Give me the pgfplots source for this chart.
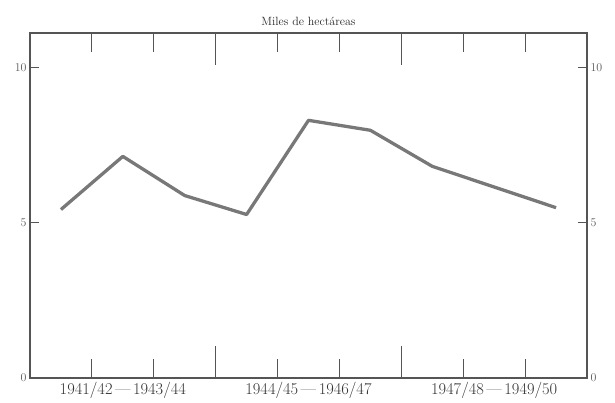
\documentclass[border=0pt]{standalone}
\usepackage{pgfplots}
\pgfplotsset{compat=1.18}

\definecolor{framegray}{RGB}{85,85,85}
\definecolor{linegray}{RGB}{120,120,120}

\begin{document}
\begin{tikzpicture}[grplab/.style={below, yshift=-1bp, font=\fontsize{16.5}{18}\selectfont, text=black!80}]
\begin{axis}[
    scale only axis,
    width=557bp, height=345bp,
    xmin=0, xmax=9,
    ymin=0, ymax=11.1,
    axis line style={framegray, line width=1.6pt},
    xtick={3,6}, xticklabels={},
    minor xtick={1,2,4,5,7,8},
    x tick style={framegray, line width=1pt, /pgfplots/major tick length=32bp, /pgfplots/minor tick length=19bp},
    ytick={0,5,10},
    ytick pos=left,
    y tick style={framegray, line width=1pt, /pgfplots/major tick length=9bp},
    yticklabel style={font=\fontsize{13}{15}\selectfont, text=black!65},
    title={Miles de hectáreas},
    title style={font=\fontsize{12}{14}\selectfont, text=black!85, yshift=-2bp},
    clip=false,
]
\addplot[linegray, line width=3.3pt, line join=round] coordinates {
    (0.5,5.42) (1.5,7.13) (2.5,5.87) (3.5,5.26)
    (4.5,8.29) (5.5,7.97) (6.5,6.81) (8.5,5.48)
};
% group labels under the axis
\node[grplab] at (axis cs:1.5,0) {1941/42\,---\,1943/44};
\node[grplab] at (axis cs:4.5,0) {1944/45\,---\,1946/47};
\node[grplab] at (axis cs:7.5,0) {1947/48\,---\,1949/50};
\end{axis}
\begin{axis}[
    scale only axis,
    width=557bp, height=345bp,
    xmin=0, xmax=9,
    ymin=0, ymax=11.1,
    hide x axis,
    axis y line*=right,
    axis line style={framegray, line width=1.6pt, -},
    ytick={0,5,10},
    y tick style={framegray, line width=1pt, /pgfplots/major tick length=9bp},
    yticklabel style={font=\fontsize{13}{15}\selectfont, text=black!65},
]
\end{axis}
\pgfresetboundingbox
\path (-30bp,-25bp) rectangle (585bp,378bp);
\end{tikzpicture}
\end{document}
